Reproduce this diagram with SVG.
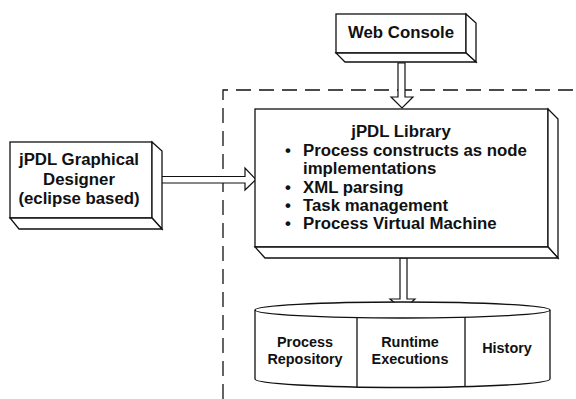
<svg xmlns="http://www.w3.org/2000/svg" width="576" height="399" viewBox="0 0 576 399">
<style>
.box{fill:#fff;stroke:#111;stroke-width:1.3;stroke-linejoin:miter}
.arr{fill:#fff;stroke:#111;stroke-width:1.2;stroke-linejoin:miter}
.dash{fill:none;stroke:#111;stroke-width:1.3;stroke-dasharray:15 8}
.t{font-family:"Liberation Sans",Arial,sans-serif;font-weight:bold;fill:#111}
.big{font-size:16.8px}
.sm{font-size:14.4px}
</style>
<rect width="576" height="399" fill="#fff"/>
<g id="boundary">
<path class="dash" d="M223 399 V90 H576"/>
</g>
<g id="connectors">
<path class="arr" d="M398 63 V97 H391 L402 108 L413 97 H405 V63 Z"/>
<path class="arr" d="M158 176.5 H245 V168 L256 179.5 L245 190 V183 H158 Z"/>
<path class="arr" d="M400 258 V299 H390 L403 310 L415 299 H407 V258 Z"/>
</g>
<g id="web-console">
<rect class="box" x="336" y="14" width="130" height="39"/>
<path class="box" d="M466 14 L476 23 V62 L466 53 Z"/>
<path class="box" d="M336 53 H466 L476 62 H345 Z"/>
<text class="t big" x="401" y="38" text-anchor="middle">Web Console</text>
</g>
<g id="designer">
<rect class="box" x="10" y="142" width="142" height="76"/>
<path class="box" d="M152 142 L162 151 V229 L152 218 Z"/>
<path class="box" d="M10 218 H152 L162 229 H19 Z"/>
<text class="t big" text-anchor="middle"><tspan x="79" y="165">jPDL Graphical</tspan><tspan x="79" y="185">Designer</tspan><tspan x="79" y="204">(eclipse based)</tspan></text>
</g>
<g id="library">
<rect class="box" x="255" y="109" width="293" height="138"/>
<path class="box" d="M548 109 L558 119 V258 L548 247 Z"/>
<path class="box" d="M255 247 H548 L558 258 H265 Z"/>
<text class="t big" x="401" y="137" text-anchor="middle">jPDL Library</text>
<g class="t big">
<text x="288" y="156" text-anchor="middle">•</text>
<text x="303" y="156">Process constructs as node</text>
<text x="303" y="174.3">implementations</text>
<text x="288" y="192.5" text-anchor="middle">•</text>
<text x="303" y="192.5">XML parsing</text>
<text x="288" y="210.8" text-anchor="middle">•</text>
<text x="303" y="210.8">Task management</text>
<text x="288" y="229" text-anchor="middle">•</text>
<text x="303" y="229">Process Virtual Machine</text>
</g>
</g>
<g id="storage">
<path class="box" d="M255 310 V379 A147.5 8.5 0 0 0 550 379 V310"/>
<ellipse class="box" cx="402.5" cy="310" rx="147.5" ry="8"/>
<line class="box" x1="357" y1="318" x2="357" y2="387"/>
<line class="box" x1="465" y1="317" x2="465" y2="386"/>
<text class="t sm" text-anchor="middle"><tspan x="305" y="347">Process</tspan><tspan x="305" y="364">Repository</tspan></text>
<text class="t sm" text-anchor="middle"><tspan x="410" y="347">Runtime</tspan><tspan x="410" y="364">Executions</tspan></text>
<text class="t sm" x="507" y="353" text-anchor="middle">History</text>
</g>
</svg>
